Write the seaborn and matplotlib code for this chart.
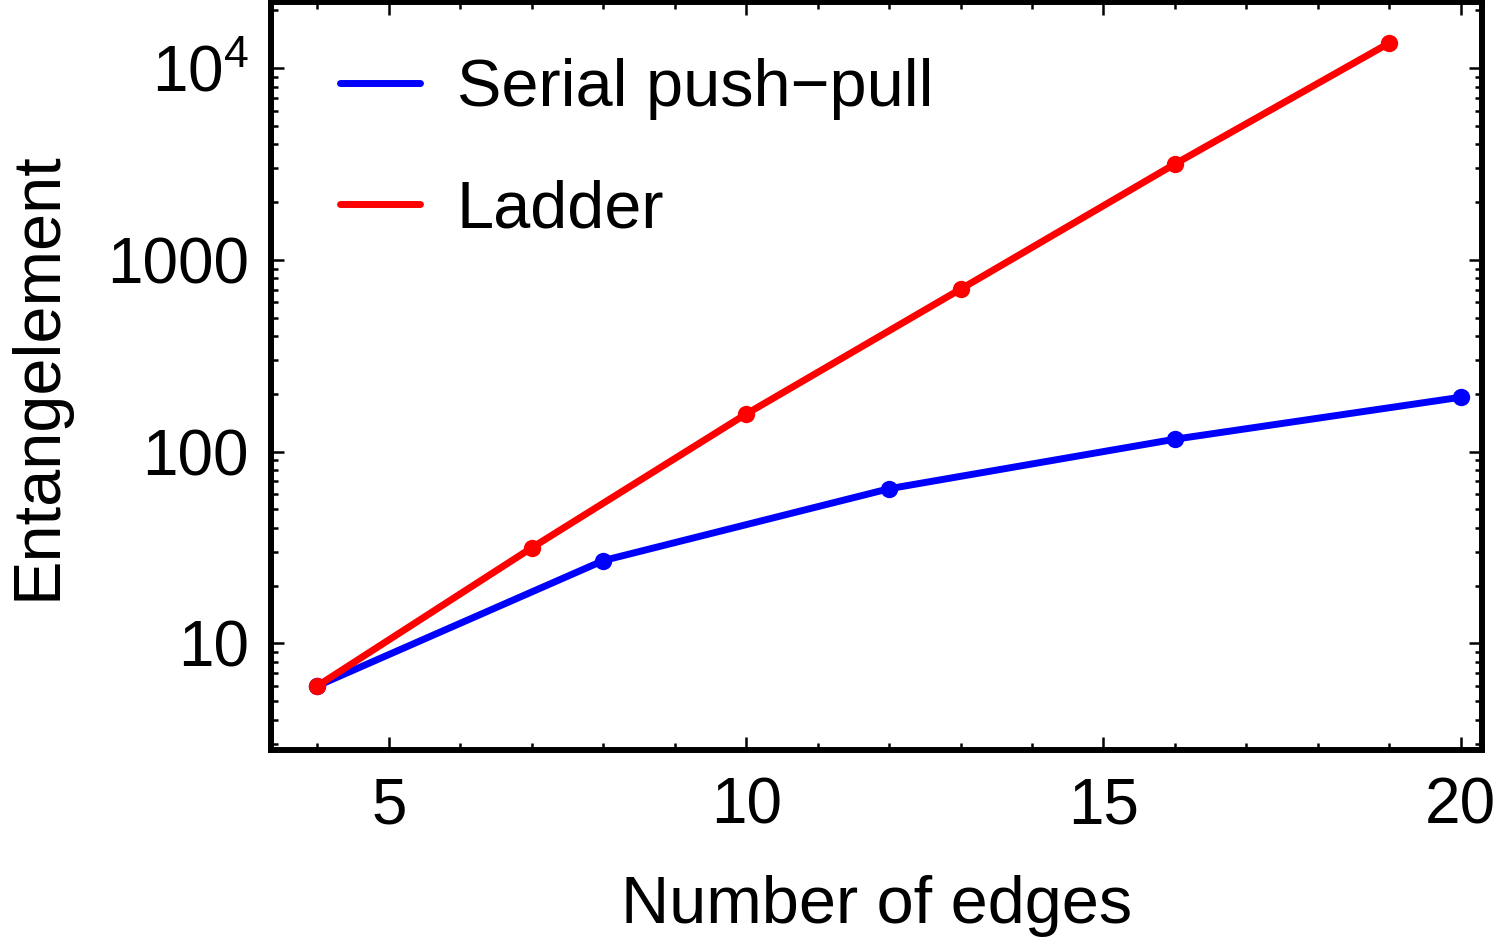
import matplotlib
matplotlib.use("Agg")
import matplotlib.pyplot as plt
from matplotlib.lines import Line2D
from matplotlib.ticker import LogLocator, MultipleLocator, NullFormatter
import seaborn as sns
import pandas as pd

# values
serial_edges = [4, 8, 12, 16, 20]
serial_ent = [6, 27, 64, 116, 192]
ladder_edges = [4, 7, 10, 13, 16, 19]
ladder_ent = [6, 31.5, 157, 703, 3160, 13500]

series_names = ["Serial push\u2212pull", "Ladder"]
series_colors = ["#0000ff", "#ff0000"]
x_ticks = [5, 10, 15, 20]
y_ticks = [10, 100, 1000, 10000]
y_tick_labels = ["10", "100", "1000", r"$10^{4}$"]

sns.set_theme(style="ticks")
plt.rcParams["font.family"] = ["Liberation Sans", "DejaVu Sans"]
plt.rcParams["mathtext.fontset"] = "custom"
plt.rcParams["mathtext.rm"] = "Liberation Sans"
plt.rcParams["mathtext.it"] = "Liberation Sans:italic"
plt.rcParams["mathtext.bf"] = "Liberation Sans:bold"
for key in ["text.color", "axes.labelcolor", "xtick.color", "ytick.color", "axes.edgecolor"]:
    plt.rcParams[key] = "black"

df = pd.concat([
    pd.DataFrame({"edges": serial_edges, "ent": serial_ent, "series": series_names[0]}),
    pd.DataFrame({"edges": ladder_edges, "ent": ladder_ent, "series": series_names[1]}),
])
palette = dict(zip(series_names, series_colors))

fig = plt.figure(figsize=(15, 9.5), dpi=100)
ax = fig.add_axes([0.1807, 0.2105, 0.8076, 0.7875])

sns.lineplot(data=df, x="edges", y="ent", hue="series", hue_order=series_names,
             palette=palette, marker="o", markersize=12.5, markeredgewidth=0,
             linewidth=5, sort=False, legend=False, ax=ax)

ax.set_yscale("log")
ax.set_xlim(3.35, 20.305)
ax.set_ylim(2.776, 22140)

ax.set_xticks(x_ticks)
ax.xaxis.set_minor_locator(MultipleLocator(1))
ax.set_yticks(y_ticks, y_tick_labels)
ax.yaxis.set_minor_locator(LogLocator(base=10, subs=range(2, 10)))
ax.yaxis.set_minor_formatter(NullFormatter())

ax.tick_params(which="both", direction="in", top=True, right=True,
               color="black", labelcolor="black", width=1.8, labelsize=46)
ax.tick_params(axis="x", which="major", length=9.4, pad=19)
ax.tick_params(axis="y", which="major", length=9.4, pad=16)
ax.tick_params(which="minor", length=5)

for sp in ax.spines.values():
    sp.set_linewidth(4.3)
    sp.set_color("black")

ax.set_xlabel("Number of edges", fontsize=48, labelpad=28)
ax.set_ylabel("Entangelement", fontsize=48, labelpad=27)

handles = [Line2D([], [], color=c, linewidth=5) for c in series_colors]
ax.legend(handles, series_names, loc="upper left", bbox_to_anchor=(0.057, 0.925),
          frameon=False, fontsize=48, handlelength=1.2, handletextpad=0.55,
          labelspacing=0.89, borderaxespad=0, borderpad=0)

fig.savefig("out.png", dpi=100)
